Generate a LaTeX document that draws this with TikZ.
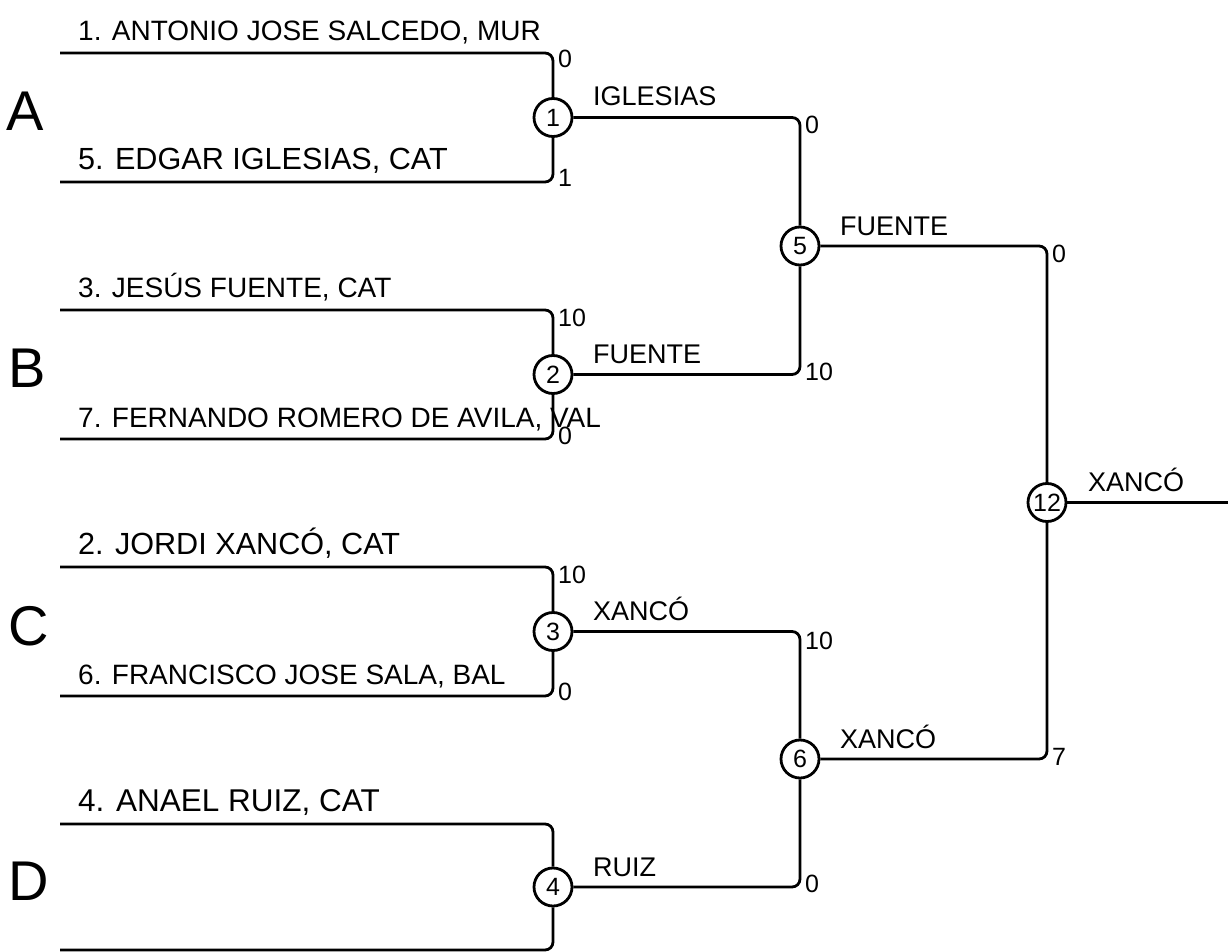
\documentclass[tikz,border=0pt]{standalone}
\usepackage{fontspec}
\setmainfont{Liberation Sans}
\begin{document}
\begin{tikzpicture}[x=1pt,y=-1pt,
  gamecircle/.style={circle, draw, fill=white, minimum size=38pt, inner sep=0pt, line width=2.8pt, font=\fontsize{25}{30}\selectfont},
  playerlbl/.style={anchor=base west, inner sep=0pt, font=\fontsize{28}{34}\selectfont},
  bigplayerlbl/.style={anchor=base west, inner sep=0pt, font=\fontsize{30.6}{36}\selectfont},
  winnerlbl/.style={anchor=base west, inner sep=0pt, font=\fontsize{27}{32}\selectfont},
  scorelbl/.style={anchor=base west, inner sep=0pt, font=\fontsize{25}{30}\selectfont},
  regionlbl/.style={anchor=base west, inner sep=0pt, font=\fontsize{56}{60}\selectfont},
  bracketline/.style={rounded corners=8pt, line width=2.8pt}]
\useasboundingbox (0,0) rectangle (1228,952);

% starting points of the first-round lines
\coordinate (p1) at (60,53);
\coordinate (p5) at (60,182);
\coordinate (p3) at (60,310);
\coordinate (p7) at (60,439);
\coordinate (p2) at (60,567);
\coordinate (p6) at (60,696);
\coordinate (p4) at (60,824);
\coordinate (p8) at (60,950);
\coordinate (fin) at (1228,502.5);

% games
\node[gamecircle] (g1) at (553,117.5) {1};
\node[gamecircle] (g2) at (553,374.5) {2};
\node[gamecircle] (g3) at (553,631.5) {3};
\node[gamecircle] (g4) at (553,887) {4};
\node[gamecircle] (g5) at (800,246) {5};
\node[gamecircle] (g6) at (800,759) {6};
\node[gamecircle] (g12) at (1047,502.5) {12};

% bracket lines
\draw[bracketline] (p1) -| (g1.north);
\draw[bracketline] (p5) -| (g1.south);
\draw[bracketline] (p3) -| (g2.north);
\draw[bracketline] (p7) -| (g2.south);
\draw[bracketline] (p2) -| (g3.north);
\draw[bracketline] (p6) -| (g3.south);
\draw[bracketline] (p4) -| (g4.north);
\draw[bracketline] (p8) -| (g4.south);
\draw[bracketline] (g1.east) -| (g5.north);
\draw[bracketline] (g2.east) -| (g5.south);
\draw[bracketline] (g3.east) -| (g6.north);
\draw[bracketline] (g4.east) -| (g6.south);
\draw[bracketline] (g5.east) -| (g12.north);
\draw[bracketline] (g6.east) -| (g12.south);
\draw[bracketline] (g12.east) -- (fin);

% regions
\node[regionlbl] (rA) at (6,131) {A};
\node[regionlbl] (rB) at (8,387) {B};
\node[regionlbl] (rC) at (8,645) {C};
\node[regionlbl] (rD) at (8,900) {D};

% player names
\node[playerlbl] (n1) at (78,41) {1. ANTONIO JOSE SALCEDO, MUR};
\node[bigplayerlbl] (n5) at (78,170) {5. EDGAR IGLESIAS, CAT};
\node[playerlbl] (n3) at (78,297) {3. JESÚS FUENTE, CAT};
\node[playerlbl] (n7) at (78,427) {7. FERNANDO ROMERO DE AVILA, VAL};
\node[bigplayerlbl] (n2) at (78,554) {2. JORDI XANCÓ, CAT};
\node[playerlbl] (n6) at (78,684) {6. FRANCISCO JOSE SALA, BAL};
\node[bigplayerlbl, font=\fontsize{31.5}{37}\selectfont] (n4) at (78,811) {4. ANAEL RUIZ, CAT};

% winners
\node[winnerlbl] (w1) at (593,106) {IGLESIAS};
\node[winnerlbl] (w2) at (593,363) {FUENTE};
\node[winnerlbl] (w3) at (593,620) {XANCÓ};
\node[winnerlbl] (w4) at (593,876) {RUIZ};
\node[winnerlbl] (w5) at (840,235) {FUENTE};
\node[winnerlbl] (w6) at (840,748) {XANCÓ};
\node[winnerlbl] (w12) at (1088,491) {XANCÓ};

% scores
\node[scorelbl] (s1a) at (558,68) {0};
\node[scorelbl] (s1b) at (558,186) {1};
\node[scorelbl] (s2a) at (558,326) {10};
\node[scorelbl] (s2b) at (558,444) {0};
\node[scorelbl] (s3a) at (558,583) {10};
\node[scorelbl] (s3b) at (558,700) {0};
\node[scorelbl] (s5a) at (805,134) {0};
\node[scorelbl] (s5b) at (805,380) {10};
\node[scorelbl] (s6a) at (805,649) {10};
\node[scorelbl] (s6b) at (805,892) {0};
\node[scorelbl] (s12a) at (1052,262) {0};
\node[scorelbl] (s12b) at (1052,765) {7};
\end{tikzpicture}
\end{document}
